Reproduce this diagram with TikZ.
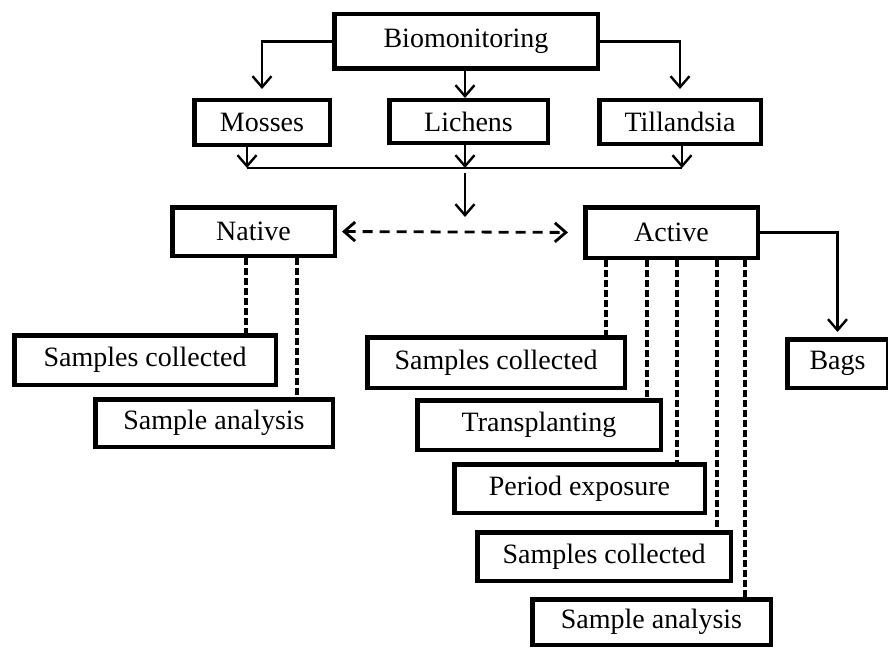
\documentclass[tikz,border=0pt]{standalone}
\usepackage{fontspec}
\setmainfont{Liberation Serif}
\usetikzlibrary{arrows.meta,calc}
\tikzset{
  bx/.style ={draw,line width=4.5pt,inner sep=0pt,minimum height=48.5pt,
              font=\fontsize{28}{32}\selectfont},
  ar/.style ={-{Straight Barb[length=11pt,width=19pt]},line width=2.4pt},
  dar/.style={{Straight Barb[length=11pt,width=19pt]}-{Straight Barb[length=11pt,width=19pt]},
              line width=2.8pt,dash pattern=on 10pt off 7pt},
  dsh/.style={line width=3.2pt,dash pattern=on 7pt off 3pt},
  ln/.style ={line width=2.4pt},
}
\begin{document}
\begin{tikzpicture}[x=1pt,y=-1pt]
  \useasboundingbox (0,0) rectangle (888,650);
  \node[bx,minimum width=263.5pt,minimum height=54.5pt] (bio) at (466,41.5) {Biomonitoring};
  \node[bx,minimum width=135.5pt,minimum height=44.5pt] (mos) at (262,122.5) {Mosses};
  \node[bx,minimum width=158.5pt,minimum height=42.5pt] (lic) at (468.5,121.5) {Lichens};
  \node[bx,minimum width=161.5pt,minimum height=43.5pt] (til) at (680,122) {Tillandsia};
  \node[bx,minimum width=162.5pt] (nat) at (253.5,231.5) {Native};
  \node[bx,minimum width=172.5pt,minimum height=50.5pt] (act) at (671.5,232.5) {Active};
  \node[bx,minimum width=100.5pt] (bags) at (837.5,363.5) {Bags};
  \node[bx,minimum width=261.5pt,minimum height=49.5pt] (nsc) at (145,360) {Samples collected};
  \node[bx,minimum width=237.5pt,minimum height=47.5pt] (nsa) at (214,423) {Sample analysis};
  \node[bx,minimum width=257.5pt,minimum height=50.5pt] (asc1) at (496,362.5) {Samples collected};
  \node[bx,minimum width=243.5pt,minimum height=49.5pt] (atr) at (539,425) {Transplanting};
  \node[bx,minimum width=250.5pt] (ape) at (579.5,488.5) {Period exposure};
  \node[bx,minimum width=253.5pt] (asc2) at (604,556.5) {Samples collected};
  \node[bx,minimum width=238.5pt,minimum height=45.5pt] (asa) at (651.5,622) {Sample analysis};
  \coordinate (jl) at (247,168);
  \coordinate (jm) at (465,168);
  \coordinate (jr) at (682,168);
  \coordinate (jd) at (465,217);
  \draw[ar,shorten >=9pt] (bio.west) -| (mos.north);
  \draw[ar] (bio.south -| jm) -- (lic.north -| jm);
  \draw[ar,shorten >=9pt] (bio.east) -| (til.north);
  \draw[ln] (jl) -- (jr);
  \foreach \n/\j in {mos/jl,lic/jm,til/jr}
     \draw[ar] (\n.south -| \j) -- (\j);
  \draw[ar] ([yshift=-5pt]jm) -- (jd);
  \draw[dar,shorten <=5pt,shorten >=15pt] (nat.east) -- (act.west);
  \draw[ar,shorten >=5pt] (act.east) -| (bags.north);
  \foreach \dx/\b in {76/nsc,127/nsa}
     \draw[dsh] ([xshift=\dx pt]nat.south west) -- ([xshift=\dx pt]nat.south west |- \b.north);
  \foreach \dx/\b in {23/asc1,64/atr,94/ape,134/asc2,162/asa}
     \draw[dsh] ([xshift=\dx pt]act.south west) -- ([xshift=\dx pt]act.south west |- \b.north);
\end{tikzpicture}
\end{document}
